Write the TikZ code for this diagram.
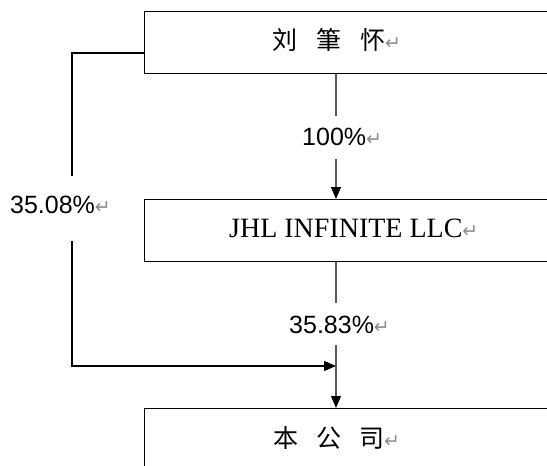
\documentclass[tikz,border=0pt]{standalone}
\usepackage{fontspec}
\setmainfont{Liberation Serif}
\newfontfamily\cjk{Noto Sans CJK SC}
\newfontfamily\symf{DejaVu Sans}
\newfontfamily\numf{Liberation Sans}
\usetikzlibrary{arrows.meta}
\newcommand{\retmark}{{\symf\fontsize{14}{14}\selectfont\color{black!45}\scalebox{1.35}{↵}}}
\tikzset{
  box/.style={draw=black, line width=1.4pt, minimum width=440pt, inner sep=0pt, anchor=north west},
  txt/.style={inner sep=0pt, anchor=base west},
  cjktxt/.style={inner sep=0pt, anchor=west, font=\cjk\fontsize{25}{25}\selectfont},
  pct/.style={inner sep=0pt, anchor=base west, font=\numf\fontsize{25}{25}\selectfont},
  midline/.style={draw=black!65, line width=1.2pt},
  sideline/.style={draw=black, line width=1.2pt},
  tip/.style={-{Triangle[length=12pt,width=10pt,color=black]}}
}
\begin{document}
\begin{tikzpicture}[x=1pt,y=-1pt]
\clip (0,0) rectangle (547,466);
\fill[white] (0,0) rectangle (547,466);
% boxes
\node[box, minimum height=62pt] (top) at (144,11) {};
\node[box, minimum height=62pt] (jhl) at (144,199) {};
\node[box, minimum height=80pt] (co) at (144,408) {};
% texts
\node[cjktxt] (toptext) at (272,40) {刘\hspace{19pt}筆\hspace{19pt}怀\retmark};
\node[txt, font=\fontsize{28}{28}\selectfont] (jhltext) at (229,237) {JHL INFINITE LLC\retmark};
\node[cjktxt] (cotext) at (273,438) {本\hspace{18pt}公\hspace{18pt}司\retmark};
% percentages
\node[pct] (p100) at (302,145) {100\%\retmark};
\node[pct] (p3583) at (289,333) {35.83\%\retmark};
\node[pct] (p3508) at (10,213) {35.08\%\retmark};
% coordinates for connectors
\coordinate (a1) at (336,116);
\coordinate (b1) at (336,159);
\coordinate (a2) at (336,303);
\coordinate (b2) at (336,345);
\coordinate (j0) at (144,53);
\coordinate (j1) at (72,53);
\coordinate (j2) at (72,176);
\coordinate (j3) at (72,241);
\coordinate (j4) at (72,366);
\coordinate (j5) at (336,366);
% connectors
\draw[midline] (top.south -| a1) -- (a1);
\draw[midline, tip] (b1) -- (jhl.north -| b1);
\draw[midline] (jhl.south -| a2) -- (a2);
\draw[midline, tip] (b2) -- (co.north -| b2);
\draw[sideline] (j0) -- (j1) -- (j2);
\draw[sideline, tip] (j3) -- (j4) -- (j5);
\end{tikzpicture}
\end{document}
